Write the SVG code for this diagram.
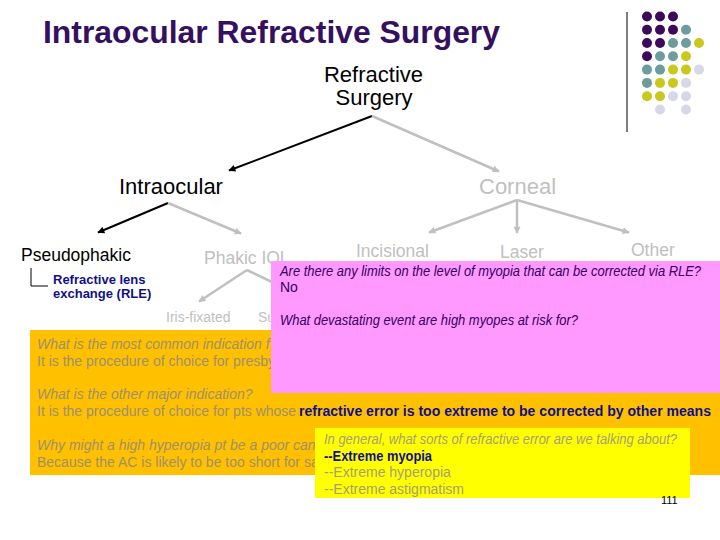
<svg xmlns="http://www.w3.org/2000/svg" width="720" height="540" viewBox="0 0 720 540">
<defs>
<style>
text{font-family:"Liberation Sans",Arial,sans-serif;}
.title{font-size:32px;font-weight:bold;fill:#361060;}
.blk{font-size:22px;fill:#000;}
.gry{fill:#c0c0c0;}
.n22{font-size:22px;}
.n17{font-size:17.5px;}
.n14{font-size:14px;}
.rle{font-size:13px;font-weight:bold;fill:#10108a;}
.otx{font-size:14px;fill:#a0906a;}
.ptx{font-size:14px;fill:#330066;font-style:italic;}
.ytx{font-size:14px;fill:#a8a070;}
.bb{font-weight:bold;fill:#10108a;}
.it{font-style:italic;}
.cb{stroke:#000;stroke-width:2;fill:none;}
.cg{stroke:#c0c0c0;stroke-width:2.5;fill:none;}
.dp{fill:#3c0a5a;}.dt{fill:#6e9c9c;}.dy{fill:#c8c81e;}.dl{fill:#d7d7e8;}
</style>
<marker id="ab" viewBox="0 0 10 10" refX="9" refY="5" markerWidth="9" markerHeight="7" markerUnits="userSpaceOnUse" orient="auto"><path d="M0,0 L10,5 L0,10 z" fill="#000"/></marker>
<marker id="ag" viewBox="0 0 10 10" refX="9" refY="5" markerWidth="9" markerHeight="7" markerUnits="userSpaceOnUse" orient="auto"><path d="M0,0 L10,5 L0,10 z" fill="#c0c0c0"/></marker>
</defs>
<rect width="720" height="540" fill="#fff"/>
<text id="title" class="title" x="43" y="43" textLength="457" lengthAdjust="spacingAndGlyphs">Intraocular Refractive Surgery</text>
<line x1="627" y1="12" x2="627" y2="132" stroke="#000" stroke-width="1"/>
<g id="dots">
<circle class="dp" cx="647" cy="16.5" r="5"/><circle class="dp" cx="660" cy="16.5" r="5"/><circle class="dp" cx="673" cy="16.5" r="5"/>
<circle class="dp" cx="647" cy="29.8" r="5"/><circle class="dp" cx="660" cy="29.8" r="5"/><circle class="dp" cx="673" cy="29.8" r="5"/><circle class="dt" cx="686" cy="29.8" r="5"/>
<circle class="dp" cx="647" cy="43" r="5"/><circle class="dp" cx="660" cy="43" r="5"/><circle class="dt" cx="673" cy="43" r="5"/><circle class="dt" cx="686" cy="43" r="5"/><circle class="dy" cx="699" cy="43" r="5"/>
<circle class="dp" cx="647" cy="56.3" r="5"/><circle class="dt" cx="660" cy="56.3" r="5"/><circle class="dt" cx="673" cy="56.3" r="5"/><circle class="dy" cx="686" cy="56.3" r="5"/>
<circle class="dt" cx="647" cy="69.6" r="5"/><circle class="dt" cx="660" cy="69.6" r="5"/><circle class="dy" cx="673" cy="69.6" r="5"/><circle class="dy" cx="686" cy="69.6" r="5"/><circle class="dl" cx="699" cy="69.6" r="5"/>
<circle class="dt" cx="647" cy="82.9" r="5"/><circle class="dy" cx="660" cy="82.9" r="5"/><circle class="dy" cx="673" cy="82.9" r="5"/><circle class="dl" cx="686" cy="82.9" r="5"/>
<circle class="dy" cx="647" cy="96.2" r="5"/><circle class="dy" cx="660" cy="96.2" r="5"/><circle class="dl" cx="673" cy="96.2" r="5"/><circle class="dl" cx="686" cy="96.2" r="5"/>
<circle class="dl" cx="660" cy="109.5" r="5"/><circle class="dl" cx="686" cy="109.5" r="5"/>
</g>
<g id="connectors">
<line class="cb" x1="372" y1="116" x2="229" y2="170.5" marker-end="url(#ab)"/>
<line class="cg" x1="372" y1="116" x2="499" y2="171.5" marker-end="url(#ag)"/>
<line class="cb" x1="168" y1="203" x2="98" y2="232.5" marker-end="url(#ab)"/>
<line class="cg" x1="168" y1="203" x2="241" y2="233.5" marker-end="url(#ag)"/>
<line class="cg" x1="517" y1="200" x2="429" y2="232.5" marker-end="url(#ag)"/>
<line class="cg" x1="517" y1="200" x2="517" y2="233" marker-end="url(#ag)"/>
<line class="cg" x1="517" y1="200" x2="629" y2="232.5" marker-end="url(#ag)"/>
<line class="cg" x1="247" y1="270" x2="199" y2="301.5" marker-end="url(#ag)"/>
<line class="cg" x1="247" y1="270" x2="276" y2="284"/>
<polyline points="31,268 31,286 48,286" fill="none" stroke="#000" stroke-width="1"/>
</g>
<g id="node-refractive-surgery"><text class="blk" x="373.5" y="82" text-anchor="middle">Refractive</text><text class="blk" x="374" y="105" text-anchor="middle">Surgery</text></g>
<g id="node-intraocular"><text class="n22" x="119" y="194" fill="#000">Intraocular</text></g>
<g id="node-corneal"><text class="n22 gry" x="479" y="194">Corneal</text></g>
<g id="node-pseudophakic"><text class="n17" x="21" y="261" fill="#000">Pseudophakic</text></g>
<g id="node-rle"><text class="rle" x="53" y="284">Refractive lens</text><text class="rle" x="53" y="298">exchange (RLE)</text></g>
<g id="node-phakic"><text class="n17 gry" x="204" y="264">Phakic IOL</text></g>
<g id="node-incisional"><text class="n17 gry" x="356" y="257">Incisional</text></g>
<g id="node-laser"><text class="n17 gry" x="500" y="258">Laser</text></g>
<g id="node-other"><text class="n17 gry" x="631" y="256">Other</text></g>
<g id="node-iris"><text class="n14 gry" x="166" y="322">Iris-fixated</text></g>
<g id="node-sulcus"><text class="n14 gry" x="258" y="322">Su</text></g>
<g id="box-orange">
<rect x="30" y="330" width="690" height="145" fill="#ffc000"/>
<text class="otx it" x="37" y="349">What is the most common indication f</text>
<text class="otx" x="37" y="366">It is the procedure of choice for presby</text>
<text class="otx it" x="37" y="399">What is the other major indication?</text>
<text class="otx" x="37" y="416">It is the procedure of choice for pts whose <tspan class="bb" x="299" textLength="412" lengthAdjust="spacingAndGlyphs">refractive error is too extreme to be corrected by other means</tspan></text>
<text class="otx it" x="37" y="450">Why might a high hyperopia pt be a poor can</text>
<text class="otx" x="37" y="467">Because the AC is likely to be too short for sa</text>
</g>
<g id="box-pink">
<rect x="271" y="261" width="449" height="132" fill="#ff99ff"/>
<text class="ptx" x="280" y="276" textLength="421" lengthAdjust="spacingAndGlyphs">Are there any limits on the level of myopia that can be corrected via RLE?</text>
<text class="ptx" x="280" y="292" style="font-style:normal">No</text>
<text class="ptx" x="280" y="325" textLength="298" lengthAdjust="spacingAndGlyphs">What devastating event are high myopes at risk for?</text>
</g>
<g id="box-yellow">
<rect x="315" y="428" width="375" height="70" fill="#ffff00"/>
<text class="ytx it" x="324" y="444" textLength="353" lengthAdjust="spacingAndGlyphs">In general, what sorts of refractive error are we talking about?</text>
<text class="ytx bb" x="324" y="461" textLength="108" lengthAdjust="spacingAndGlyphs">--Extreme myopia</text>
<text class="ytx" x="324" y="477">--Extreme hyperopia</text>
<text class="ytx" x="324" y="494">--Extreme astigmatism</text>
</g>
<text id="page" x="661" y="504" font-size="11" fill="#000">111</text>
</svg>
